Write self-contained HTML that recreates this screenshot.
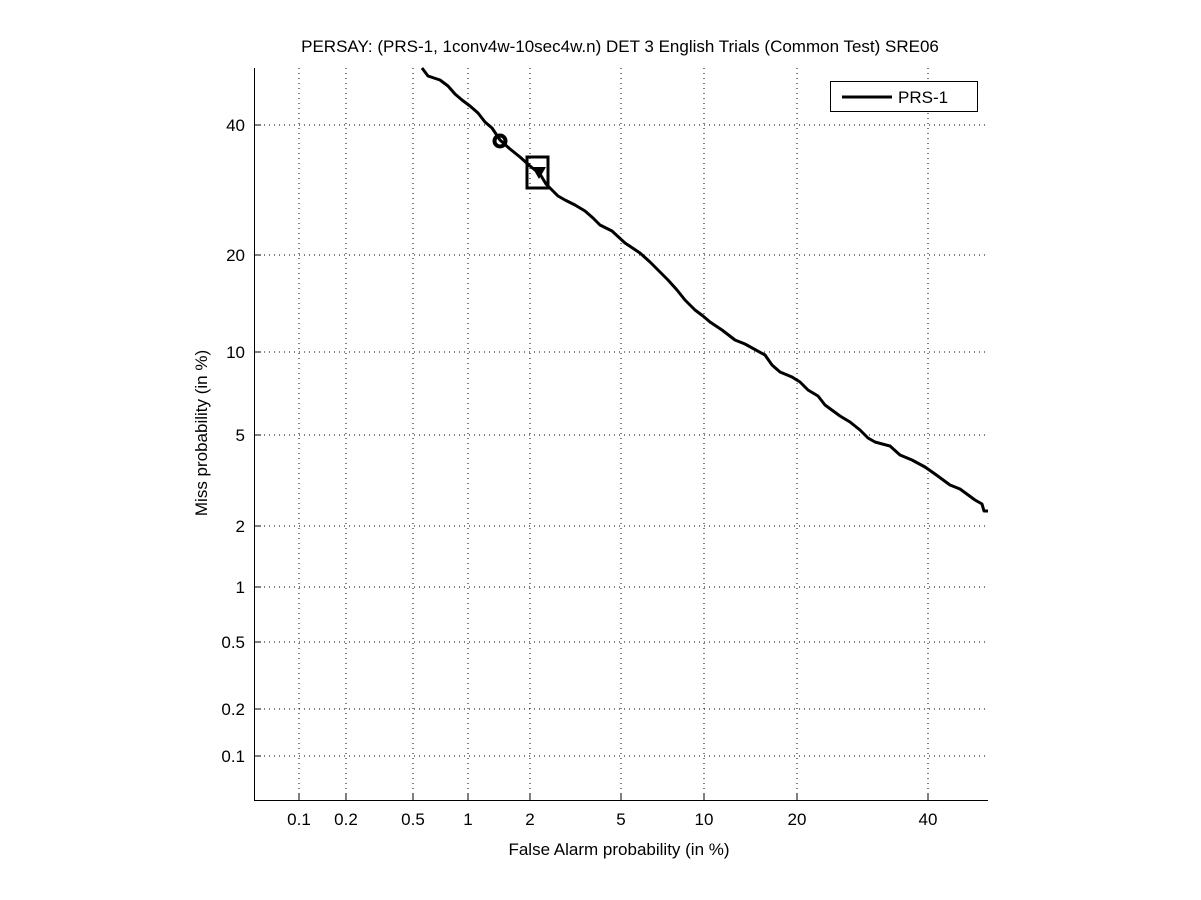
<!DOCTYPE html>
<html><head><meta charset="utf-8"><style>body{margin:0;background:#fff}svg{display:block}text{font-family:"Liberation Sans",sans-serif;fill:#000}</style></head><body>
<svg width="1201" height="900" viewBox="0 0 1201 900">
<rect width="1201" height="900" fill="#fff"/>
<g stroke="#000" stroke-width="1" stroke-dasharray="1,4">
<line x1="299" y1="68" x2="299" y2="801"/><line x1="346" y1="68" x2="346" y2="801"/><line x1="413" y1="68" x2="413" y2="801"/><line x1="468" y1="68" x2="468" y2="801"/><line x1="530" y1="68" x2="530" y2="801"/><line x1="621" y1="68" x2="621" y2="801"/><line x1="704" y1="68" x2="704" y2="801"/><line x1="797" y1="68" x2="797" y2="801"/><line x1="928" y1="68" x2="928" y2="801"/>
<line x1="254" y1="125" x2="988" y2="125"/><line x1="254" y1="255" x2="988" y2="255"/><line x1="254" y1="352" x2="988" y2="352"/><line x1="254" y1="435" x2="988" y2="435"/><line x1="254" y1="526" x2="988" y2="526"/><line x1="254" y1="587" x2="988" y2="587"/><line x1="254" y1="642" x2="988" y2="642"/><line x1="254" y1="709" x2="988" y2="709"/><line x1="254" y1="756" x2="988" y2="756"/>
</g>
<g stroke="#000" stroke-width="1">
<line x1="254.5" y1="68" x2="254.5" y2="801"/><line x1="254" y1="800.5" x2="988" y2="800.5"/>
<line x1="299" y1="794" x2="299" y2="801"/><line x1="346" y1="794" x2="346" y2="801"/><line x1="413" y1="794" x2="413" y2="801"/><line x1="468" y1="794" x2="468" y2="801"/><line x1="530" y1="794" x2="530" y2="801"/><line x1="621" y1="794" x2="621" y2="801"/><line x1="704" y1="794" x2="704" y2="801"/><line x1="797" y1="794" x2="797" y2="801"/><line x1="928" y1="794" x2="928" y2="801"/>
<line x1="254" y1="125" x2="261" y2="125"/><line x1="254" y1="255" x2="261" y2="255"/><line x1="254" y1="352" x2="261" y2="352"/><line x1="254" y1="435" x2="261" y2="435"/><line x1="254" y1="526" x2="261" y2="526"/><line x1="254" y1="587" x2="261" y2="587"/><line x1="254" y1="642" x2="261" y2="642"/><line x1="254" y1="709" x2="261" y2="709"/><line x1="254" y1="756" x2="261" y2="756"/>
</g>
<polyline fill="none" stroke="#000" stroke-width="3" stroke-linejoin="round" points="422,68 428,76 440,80 448,86 455,94 462,100 470,106 478,113 485,122 492,128 500,140 510,149 520,157 530,166 540,174 546,184 552,190 558,196 565,200 575,205 585,211 593,218 600,225 612,231 625,243 640,253 650,262 660,272 668,280 677,290 685,300 695,310 703,316 710,322 722,330 735,340 745,344 765,355 772,365 780,372 792,377 800,382 808,390 818,396 825,405 840,416 850,422 860,430 868,438 875,442 890,446 900,455 912,460 925,467 935,474 950,485 960,489 975,500 982,504 984,511 988,511"/>
<circle cx="500" cy="141" r="5.5" fill="none" stroke="#000" stroke-width="4"/>
<rect x="527" y="157" width="21" height="31" fill="none" stroke="#000" stroke-width="3"/>
<path d="M532,167 L546,167 L539,179 Z" fill="#000"/>
<rect x="830.5" y="81.5" width="147" height="30" fill="#fff" stroke="#000"/>
<line x1="842" y1="97" x2="892" y2="97" stroke="#000" stroke-width="3"/>
<text x="898" y="103" font-size="17">PRS-1</text>
<text x="620" y="52" font-size="17" text-anchor="middle">PERSAY: (PRS-1, 1conv4w-10sec4w.n) DET 3 English Trials (Common Test) SRE06</text>
<g font-size="17" text-anchor="middle">
<text x="299" y="825">0.1</text><text x="346" y="825">0.2</text><text x="413" y="825">0.5</text><text x="468" y="825">1</text><text x="530" y="825">2</text><text x="621" y="825">5</text><text x="704" y="825">10</text><text x="797" y="825">20</text><text x="928" y="825">40</text>
</g>
<g font-size="17" text-anchor="end">
<text x="245" y="131">40</text><text x="245" y="261">20</text><text x="245" y="358">10</text><text x="245" y="441">5</text><text x="245" y="532">2</text><text x="245" y="593">1</text><text x="245" y="648">0.5</text><text x="245" y="715">0.2</text><text x="245" y="762">0.1</text>
</g>
<text x="619" y="855" font-size="17" text-anchor="middle">False Alarm probability (in %)</text>
<text transform="translate(207,433) rotate(-90)" font-size="17" text-anchor="middle">Miss probability (in %)</text>
</svg>
</body></html>
